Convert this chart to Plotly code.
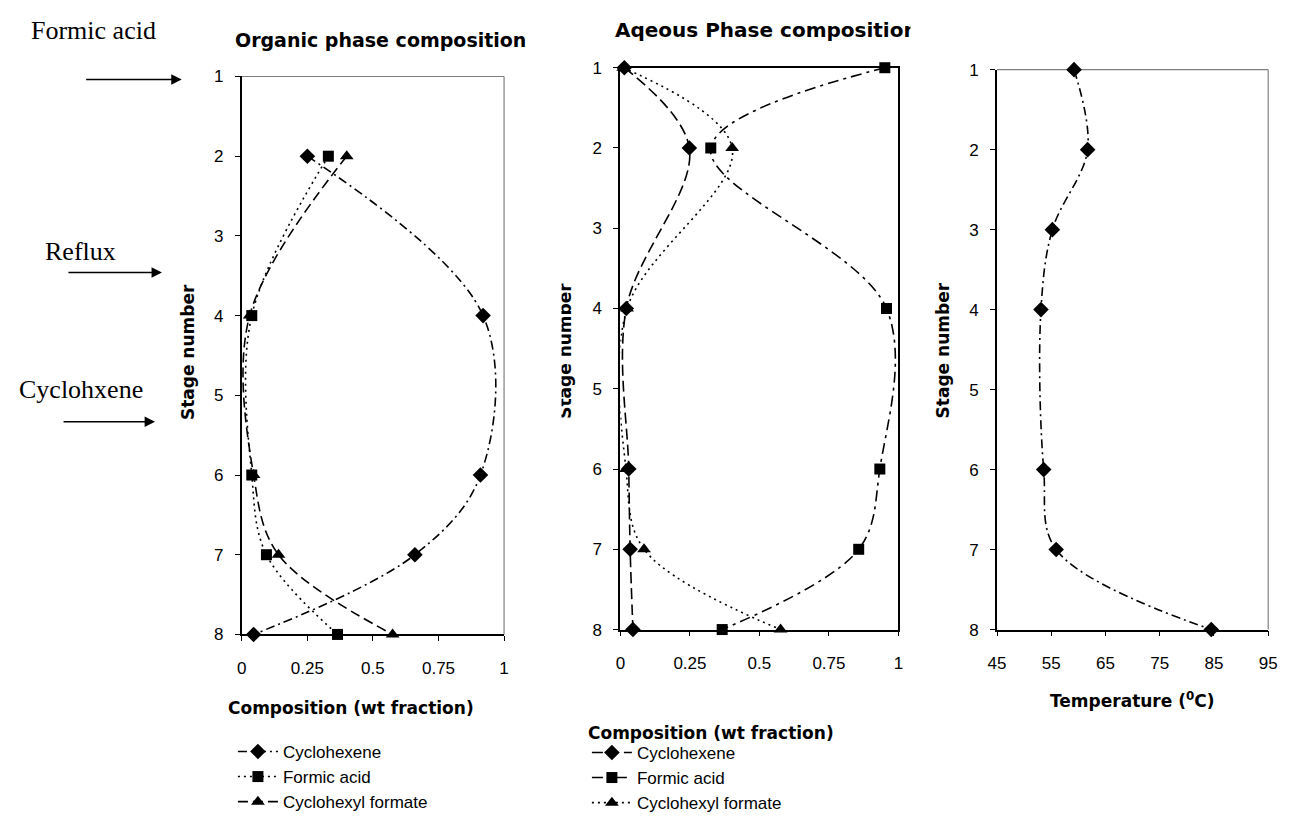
import plotly.graph_objects as go

# ---------------- data ----------------
stages_org = [2, 4, 6, 7, 8]
org_cyclohexene = [0.25, 0.92, 0.91, 0.66, 0.045]
org_formic_acid = [0.33, 0.038, 0.038, 0.094, 0.365]
org_cyclohexyl_formate = [0.40, 0.03, 0.045, 0.14, 0.575]

stages_aq = [1, 2, 4, 6, 7, 8]
aq_cyclohexene = [0.014, 0.248, 0.021, 0.03, 0.035, 0.045]
aq_formic_acid = [0.951, 0.325, 0.957, 0.933, 0.857, 0.366]
aq_cyclohexyl_formate = [0.01, 0.402, 0.024, 0.02, 0.085, 0.576]

stages_temp = [1, 2, 3, 4, 6, 7, 8]
temperature = [59.2, 61.7, 55.2, 53.1, 53.6, 55.9, 84.5]

stage_ticks = [1, 2, 3, 4, 5, 6, 7, 8]
comp_ticks = [0, 0.25, 0.5, 0.75, 1]
comp_tick_text = ["0", "0.25", "0.5", "0.75", "1"]
temp_ticks = [45, 55, 65, 75, 85, 95]

# page is 1299x829; the html body keeps an 8px margin
W, H, OFF = 1299, 829, 8
FW, FH = W - 2 * OFF, H - 2 * OFF
def px(x):
    return (x - OFF) / FW
def py(y):
    return 1 - (y - OFF) / FH

ARIAL = "Liberation Sans, Arial, sans-serif"
NARROW = "Liberation Sans Narrow, Arial Narrow, Liberation Sans, Arial, sans-serif"
SERIF = "Liberation Serif, Times New Roman, serif"
DEJAVU = "DejaVu Sans, Verdana, sans-serif"

fig = go.Figure()

def add(x, y, name, dash, symbol, xa, ya, legend, showlegend=True, msize=11):
    fig.add_trace(go.Scatter(
        x=x, y=y, name=name, mode="lines+markers",
        line=dict(color="black", width=1.6, dash=dash, shape="spline", smoothing=1.0),
        marker=dict(color="black", symbol=symbol, size=msize),
        xaxis=xa, yaxis=ya, legend=legend, showlegend=showlegend, cliponaxis=False))

DASHDOT = "9px,4px,2px,4px"
DOT = "2px,4px"
DASH = "10px,5px"

# Organic phase
add(org_cyclohexene, stages_org, "Cyclohexene", DASHDOT, "diamond", "x", "y", "legend", msize=12)
add(org_formic_acid, stages_org, "Formic acid", DOT, "square", "x", "y", "legend")
add(org_cyclohexyl_formate, stages_org, "Cyclohexyl formate", DASH, "triangle-up", "x", "y", "legend", msize=12)

# Aqueous phase
add(aq_cyclohexene, stages_aq, "Cyclohexene", "11px,5px", "diamond", "x2", "y2", "legend2", msize=12)
add(aq_formic_acid, stages_aq, "Formic acid", "11px,5px,3px,5px", "square", "x2", "y2", "legend2")
add(aq_cyclohexyl_formate, stages_aq, "Cyclohexyl formate", DOT, "triangle-up", "x2", "y2", "legend2", msize=12)

# Temperature
add(temperature, stages_temp, "Temperature", DASHDOT, "diamond", "x3", "y3", "legend", showlegend=False, msize=12)

tickfont = dict(family=ARIAL, size=17, color="black")
narrowfont = dict(family=NARROW, size=17, color="black")

def yaxis(domain_px, anchor):
    return dict(domain=[py(domain_px[1]), py(domain_px[0])], anchor=anchor,
                range=[8, 1], tickvals=stage_ticks, ticks="outside", ticklen=5,
                tickcolor="black", showline=True, linecolor="black", linewidth=2,
                showgrid=False, zeroline=False, tickfont=tickfont, ticklabelstandoff=8)

def xaxis(domain_px, anchor, rng, tv, tt, font, mirror=False):
    return dict(domain=[px(domain_px[0]), px(domain_px[1])], anchor=anchor,
                range=rng, tickvals=tv, ticktext=tt, ticks="outside", ticklen=5,
                tickcolor="black", showline=True, linecolor="black", linewidth=1.6,
                showgrid=False, zeroline=False, tickfont=font, mirror=mirror,
                ticklabelstandoff=12)

P1 = dict(x=(236, 502), y=(69, 641))
P2 = dict(x=(620, 902), y=(60, 636))
P3 = dict(x=(1002, 1277), y=(62, 636))

ya2 = yaxis(P2["y"], "x2"); ya2["mirror"] = True
fig.update_layout(
    width=FW, height=FH, autosize=False,
    margin=dict(l=0, r=0, t=0, b=0),
    paper_bgcolor="white", plot_bgcolor="white",
    xaxis=xaxis(P1["x"], "y", [0, 1], comp_ticks, comp_tick_text, narrowfont),
    yaxis=yaxis(P1["y"], "x"),
    xaxis2=xaxis(P2["x"], "y2", [0, 1], comp_ticks, comp_tick_text, narrowfont, mirror=True),
    yaxis2=ya2,
    xaxis3=xaxis(P3["x"], "y3", [45, 95], temp_ticks, [str(t) for t in temp_ticks], tickfont),
    yaxis3=yaxis(P3["y"], "x3"),
    legend=dict(x=px(227), y=py(743), xanchor="left", yanchor="top",
                font=dict(family=NARROW, size=17, color="black"),
                bgcolor="rgba(0,0,0,0)", tracegroupgap=0, itemwidth=40),
    legend2=dict(x=px(586), y=py(744), xanchor="left", yanchor="top",
                 font=dict(family=NARROW, size=17, color="black"),
                 bgcolor="rgba(0,0,0,0)", tracegroupgap=0, itemwidth=40),
)

# grey top/right frame on panels 1 and 3
for xr, yr in (("x domain", "y domain"), ("x3 domain", "y3 domain")):
    fig.add_shape(type="line", xref=xr, yref=yr, x0=0, x1=1, y0=1, y1=1,
                  line=dict(color="#7f7f7f", width=1.2), layer="below")
    fig.add_shape(type="line", xref=xr, yref=yr, x0=1, x1=1, y0=0, y1=1,
                  line=dict(color="#7f7f7f", width=1.2), layer="below")

bold = dict(family=DEJAVU, size=17, color="black", weight="bold")
ann = []
ann.append(dict(text="<b>Organic phase composition</b>", x=px(377), y=py(32),
                font=dict(family=DEJAVU, size=19, color="black", weight="bold")))
ann.append(dict(text="<b>Aqeous Phase composition</b>", x=px(768), y=py(21),
                font=dict(family=DEJAVU, size=20, color="black", weight="bold")))
ann.append(dict(text="<b>Composition (wt fraction)</b>", x=px(347), y=py(716), font=bold))
ann.append(dict(text="<b>Composition (wt fraction)</b>", x=px(712), y=py(742), font=bold))
ann.append(dict(text="<b>Temperature (<sup>0</sup>C)</b>", x=px(1139), y=py(708), font=bold))
ann.append(dict(text="<b>Stage number</b>", x=px(181), y=py(352), font=bold, textangle=-90))
ann.append(dict(text="<b>Stage number</b>", x=px(563), y=py(350), font=bold, textangle=-90))
ann.append(dict(text="<b>Stage number</b>", x=px(947), y=py(350), font=bold, textangle=-90))
serif = dict(family=SERIF, size=26, color="black")
ann.append(dict(text="Formic acid", x=px(86), y=py(22), font=serif))
ann.append(dict(text="Reflux", x=px(72), y=py(248), font=serif))
ann.append(dict(text="Cyclohxene", x=px(73), y=py(390), font=serif))
for a in ann:
    a.update(xref="paper", yref="paper", showarrow=False, xanchor="center", yanchor="middle")

# white masks (drawn after the texts) reproducing the clipped texts of the middle panel
ann.append(dict(text=" ", x=px(545), y=py(350), width=30, height=220, bgcolor="white",
                borderpad=0, xref="paper", yref="paper", showarrow=False,
                xanchor="center", yanchor="middle"))
ann.append(dict(text=" ", x=px(931), y=py(21), width=32, height=36, bgcolor="white",
                borderpad=0, xref="paper", yref="paper", showarrow=False,
                xanchor="center", yanchor="middle"))

arrows = [(78, 175, 72), (60, 155, 270), (55, 148, 423)]
for x0, x1, yy in arrows:
    ann.append(dict(x=px(x1), y=py(yy), ax=-(x1 - x0), ay=0, xref="paper", yref="paper",
                    axref="pixel", ayref="pixel", text="", showarrow=True,
                    arrowhead=2, arrowsize=1.3, arrowwidth=1.6, arrowcolor="black"))
fig.update_layout(annotations=ann)

fig.write_html("out.html")
